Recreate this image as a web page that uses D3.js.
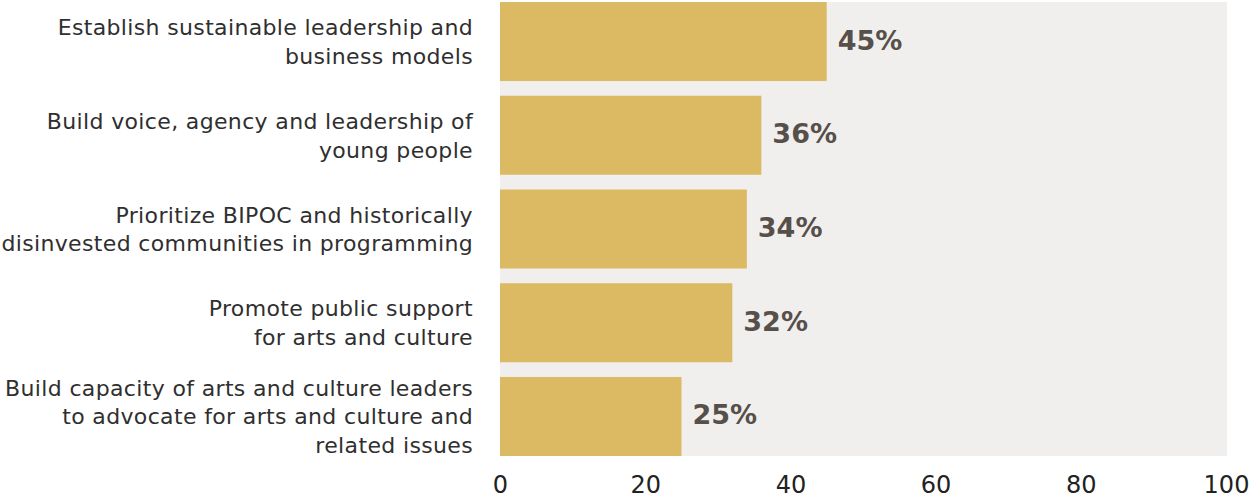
<!DOCTYPE html>
<html>
<head>
<meta charset="utf-8">
<script src="https://cdn.jsdelivr.net/npm/d3@7"></script>
<style>
  html, body { margin: 0; padding: 0; background: #ffffff; }
  svg { display: block; }
</style>
</head>
<body>
<svg id="chart" width="1250" height="498"></svg>
<script>
const categories = [
  ["Establish sustainable leadership and", "business models"],
  ["Build voice, agency and leadership of", "young people"],
  ["Prioritize BIPOC and historically", "disinvested communities in programming"],
  ["Promote public support", "for arts and culture"],
  ["Build capacity of arts and culture leaders", "to advocate for arts and culture and", "related issues"]
];
const values = [45, 36, 34, 32, 25];
const tickValues = [0, 20, 40, 60, 80, 100];

const svg = d3.select("#chart");
const plotLeft = 500, plotRight = 1226, plotTop = 2, plotBottom = 456;

const x = d3.scaleLinear().domain([0, 100]).range([plotLeft, plotRight]);
const y = d3.scaleBand().domain(d3.range(categories.length)).range([plotTop, plotBottom])
  .paddingInner(0.157).paddingOuter(0);

svg.append("rect")
  .attr("x", plotLeft).attr("y", plotTop)
  .attr("width", 1227 - plotLeft).attr("height", plotBottom - plotTop)
  .attr("fill", "#f0efed");

svg.append("g").selectAll("rect").data(values).join("rect")
  .attr("x", x(0))
  .attr("y", (d, i) => y(i))
  .attr("width", d => x(d) - x(0))
  .attr("height", y.bandwidth())
  .attr("fill", "#dcb963");

svg.append("g").selectAll("text").data(values).join("text")
  .attr("x", d => x(d) + 11)
  .attr("y", (d, i) => y(i) + y.bandwidth() / 2 + 8)
  .attr("font-family", "DejaVu Sans, sans-serif")
  .attr("font-weight", "bold")
  .attr("font-size", 27)
  .attr("fill", "#574f4a")
  .text(d => d + "%");

const lineH = 28.5;
const lab = svg.append("g").selectAll("text").data(categories).join("text")
  .attr("text-anchor", "end")
  .attr("font-family", "DejaVu Sans, sans-serif")
  .attr("font-size", 22)
  .attr("letter-spacing", "0.35px")
  .attr("fill", "#2f2f2f");
lab.each(function(lines, i) {
  const cy = y(i) + y.bandwidth() / 2;
  const first = cy - (lines.length - 1) * lineH / 2 + 8;
  d3.select(this).selectAll("tspan").data(lines).join("tspan")
    .attr("x", 473)
    .attr("y", (d, j) => first + j * lineH)
    .text(d => d);
});

const axis = d3.axisBottom(x).tickValues(tickValues).tickSize(0).tickPadding(0);
const ag = svg.append("g").attr("transform", `translate(0,${plotBottom})`).call(axis);
ag.select(".domain").remove();
ag.selectAll("text")
  .attr("y", 37)
  .attr("dy", null)
  .attr("font-family", "DejaVu Sans, sans-serif")
  .attr("font-size", 24)
  .attr("fill", "#222");
</script>
</body>
</html>
